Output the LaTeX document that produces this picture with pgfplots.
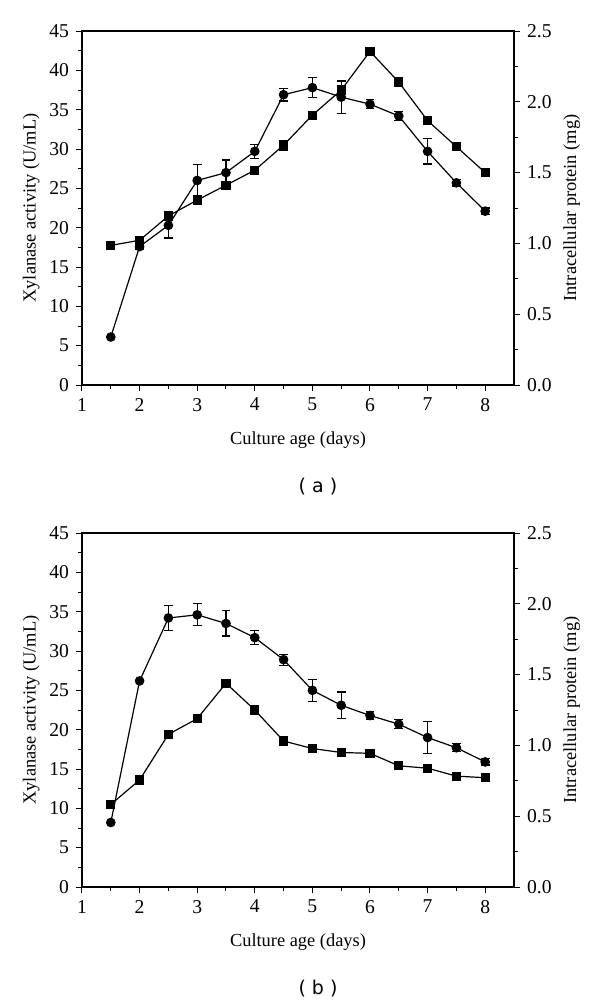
\documentclass[border=0pt]{standalone}
\usepackage{fontspec}
\setmainfont{Liberation Serif}
\newfontfamily\capfont{DejaVu Sans}
\usepackage{pgfplots}
\pgfplotsset{compat=1.18}

\pgfplotsset{
  base/.style={
    width=216pt, height=177pt, scale only axis,
    xmin=1, xmax=8.5, xtick={1,...,8}, minor x tick num=1,
    tick align=outside,
    /pgf/number format/assume math mode=true,
    tick label style={font=\fontsize{9.8}{11}\selectfont},
    label style={font=\fontsize{9.2}{11}\selectfont},
    major tick length=3pt, minor tick length=2pt,
    axis line style={line width=0.6pt},
    every tick/.style={black, line width=0.5pt},
  },
  lftax/.style={base,
    xtick pos=bottom, ytick pos=left,
    ymin=0, ymax=45, ytick={0,5,...,45}, minor y tick num=1,
    ylabel={Xylanase activity (U/mL)},
    xlabel={Culture age (days)},
    ylabel style={yshift=-2pt},
    xlabel style={yshift=-3.5pt},
  },
  rgtax/.style={base,
    hide x axis, axis y line*=right,
    ytick pos=right, yticklabel pos=right,
    ymin=0, ymax=2.5, ytick={0,0.5,...,2.5}, minor y tick num=1,
    yticklabel style={/pgf/number format/.cd, fixed, fixed zerofill, precision=1},
    ylabel={Intracellular protein (mg)},
    ylabel style={yshift=1pt},
  },
  circ/.style={black, line width=0.6pt, mark=*, mark size=2.1pt,
    error bars/.cd, y dir=both, y explicit,
    error mark options={rotate=90, mark size=2.2pt, line width=0.6pt, black},
    error bar style={line width=0.6pt, black}},
  sqr/.style={black, line width=0.6pt, mark=square*, mark size=2pt,
    error bars/.cd, y dir=both, y explicit,
    error mark options={rotate=90, mark size=2.2pt, line width=0.6pt, black},
    error bar style={line width=0.6pt, black}},
}

\begin{document}
\begin{tikzpicture}
\useasboundingbox (0,0) rectangle (300pt,-501.5pt);

% ---- panel (a)
\begin{axis}[lftax, name=pa, at={(41pt,-15.5pt)}, anchor=north west]
\addplot[circ] coordinates {
  (1.5,6.1) +- (0,0)
  (2,17.6) +- (0,0.3)
  (2.5,20.3) +- (0,1.6)
  (3,26.0) +- (0,2.0)
  (3.5,27.0) +- (0,1.6)
  (4,29.7) +- (0,0.9)
  (4.5,36.9) +- (0,0.8)
  (5,37.8) +- (0,1.3)
  (5.5,36.6) +- (0,2.1)
  (6,35.7) +- (0,0.6)
  (6.5,34.2) +- (0,0.6)
  (7,29.7) +- (0,1.6)
  (7.5,25.7) +- (0,0.4)
  (8,22.1) +- (0,0.4)
};
\end{axis}
\begin{axis}[rgtax, at={(41pt,-15.5pt)}, anchor=north west]
\addplot[sqr] coordinates {
  (1.5,0.986) +- (0,0)
  (2,1.022) +- (0,0.01)
  (2.5,1.194) +- (0,0.02)
  (3,1.306) +- (0,0)
  (3.5,1.411) +- (0,0)
  (4,1.517) +- (0,0)
  (4.5,1.694) +- (0,0.035)
  (5,1.906) +- (0,0)
  (5.5,2.083) +- (0,0.06)
  (6,2.356) +- (0,0)
  (6.5,2.139) +- (0,0.03)
  (7,1.867) +- (0,0)
  (7.5,1.683) +- (0,0)
  (8,1.500) +- (0,0)
};
\end{axis}
\node[font=\capfont\fontsize{9.5}{11}\selectfont, xshift=10pt, yshift=-51pt] at (pa.south) {( a )};

% ---- panel (b)
\begin{axis}[lftax, name=pb, at={(41pt,-266.5pt)}, anchor=north west]
\addplot[circ] coordinates {
  (1.5,8.2) +- (0,0)
  (2,26.2) +- (0,0)
  (2.5,34.2) +- (0,1.6)
  (3,34.6) +- (0,1.4)
  (3.5,33.5) +- (0,1.6)
  (4,31.7) +- (0,0.9)
  (4.5,28.9) +- (0,0.7)
  (5,25.0) +- (0,1.4)
  (5.5,23.1) +- (0,1.7)
  (6,21.8) +- (0,0.5)
  (6.5,20.7) +- (0,0.6)
  (7,19.0) +- (0,2.0)
  (7.5,17.7) +- (0,0.5)
  (8,15.9) +- (0,0.4)
};
\end{axis}
\begin{axis}[rgtax, at={(41pt,-266.5pt)}, anchor=north west]
\addplot[sqr] coordinates {
  (1.5,0.583) +- (0,0)
  (2,0.756) +- (0,0)
  (2.5,1.078) +- (0,0)
  (3,1.189) +- (0,0)
  (3.5,1.439) +- (0,0)
  (4,1.250) +- (0,0)
  (4.5,1.031) +- (0,0)
  (5,0.978) +- (0,0)
  (5.5,0.950) +- (0,0)
  (6,0.944) +- (0,0)
  (6.5,0.856) +- (0,0)
  (7,0.839) +- (0,0)
  (7.5,0.783) +- (0,0)
  (8,0.772) +- (0,0)
};
\end{axis}
\node[font=\capfont\fontsize{9.5}{11}\selectfont, xshift=10pt, yshift=-51pt] at (pb.south) {( b )};
\end{tikzpicture}
\end{document}
